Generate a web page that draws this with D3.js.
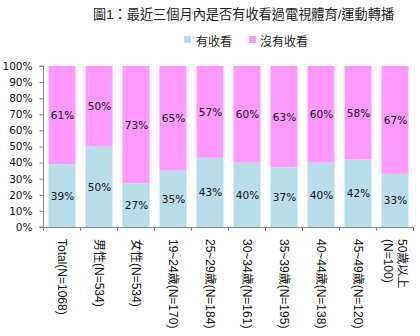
<!DOCTYPE html>
<html><head><meta charset="utf-8">
<script src="https://cdn.jsdelivr.net/npm/d3@7"></script>
<style>body{margin:0;background:#fff}svg{display:block}</style>
</head><body>
<svg id="c" width="420" height="336"></svg>
<script>
const categories = [["Total(N=1068)"],["男性(N=534)"],["女性(N=534)"],["19~24歲(N=170)"],["25~29歲(N=184)"],["30~34歲(N=161)"],["35~39歲(N=195)"],["40~44歲(N=138)"],["45~49歲(N=120)"],["50歲以上","(N=100)"]];
const watched    = [39,50,27,35,43,40,37,40,42,33];
const notWatched = [61,50,73,65,57,60,63,60,58,67];
const seriesNames = ["有收看","沒有收看"];
const seriesColors = ["#B7DEE8","#FF99FF"];
const yTicks = [0,10,20,30,40,50,60,70,80,90,100];
const title = "圖1：最近三個月內是否有收看過電視體育/運動轉播";

const svg = d3.select("#c");
const numFont = "'DejaVu Sans','Noto Sans CJK TC',sans-serif";
const cjkFont = "'Liberation Sans','Noto Sans CJK TC',sans-serif";
const L = 43.5, R = 413.5, T = 66, B = 227;
const keys = categories.map((c,i)=>i);
const x = d3.scaleBand().domain(keys).range([L,R]).paddingInner(0.27).paddingOuter(0.135);
const y = d3.scaleLinear().domain([0,100]).range([B,T]);

// title
svg.append("text").attr("x",93).attr("y",19).attr("font-family",cjkFont).attr("font-size",13.2)
  .attr("fill","#222").text(title);

// legend
const lg = [{x:184,tx:196},{x:249,tx:260}];
seriesNames.forEach((n,i)=>{
  svg.append("rect").attr("x",lg[i].x).attr("y",36).attr("width",7).attr("height",7).attr("fill",seriesColors[i]);
  svg.append("text").attr("x",lg[i].tx).attr("y",45.5).attr("font-family",cjkFont).attr("font-size",12)
    .attr("fill","#222").text(n);
});

// bars
const stackData = keys.map(i=>({i, a:watched[i], b:notWatched[i]}));
const stack = d3.stack().keys(["a","b"])(stackData);
const g = svg.append("g");
stack.forEach((s,si)=>{
  g.selectAll(null).data(s).enter().append("rect")
    .attr("x",d=>x(d.data.i)).attr("width",x.bandwidth())
    .attr("y",d=>y(d[1])).attr("height",d=>y(d[0])-y(d[1]))
    .attr("fill",seriesColors[si]);
  g.selectAll(null).data(s).enter().append("text")
    .attr("x",d=>x(d.data.i)+x.bandwidth()/2+0.5)
    .attr("y",d=>y((d[0]+d[1])/2))
    .attr("text-anchor","middle").attr("dominant-baseline","central")
    .attr("font-family",numFont).attr("font-size",10.5).attr("fill","#111")
    .text(d=>(d[1]-d[0])+"%");
});

// y axis
const yAxis = d3.axisLeft(y).tickValues(yTicks).tickSize(4).tickPadding(7).tickFormat(d=>d+"%");
const ya = svg.append("g").attr("transform",`translate(${L},0)`).call(yAxis);
ya.select(".domain").attr("stroke","#888").attr("d",`M-4,${T}H0V${B}H-4`);
ya.selectAll(".tick line").attr("stroke","#888");
ya.selectAll(".tick text").attr("font-family",numFont).attr("font-size",10.5).attr("fill","#111");

// x axis (ticks at category boundaries)
const step = x.step();
const xa = svg.append("g");
xa.append("line").attr("x1",L).attr("x2",R).attr("y1",B+0.5).attr("y2",B+0.5).attr("stroke","#888");
xa.selectAll(null).data(d3.range(keys.length+1)).enter().append("line")
  .attr("x1",i=>L+i*step).attr("x2",i=>L+i*step).attr("y1",B).attr("y2",B+4).attr("stroke","#888");

// x labels, rotated
categories.forEach((lines,i)=>{
  const cx = x(i)+x.bandwidth()/2;
  const t = svg.append("text").attr("transform",`translate(${cx},239) rotate(90)`)
    .attr("font-family",cjkFont).attr("font-size",12).attr("fill","#111")
    .attr("dominant-baseline","central");
  lines.forEach((ln,j)=>{
    t.append("tspan").attr("x",0).attr("dy", j===0 ? (-(lines.length-1)*0.55)+"em" : "1.1em").text(ln);
  });
});
</script>
</body></html>
